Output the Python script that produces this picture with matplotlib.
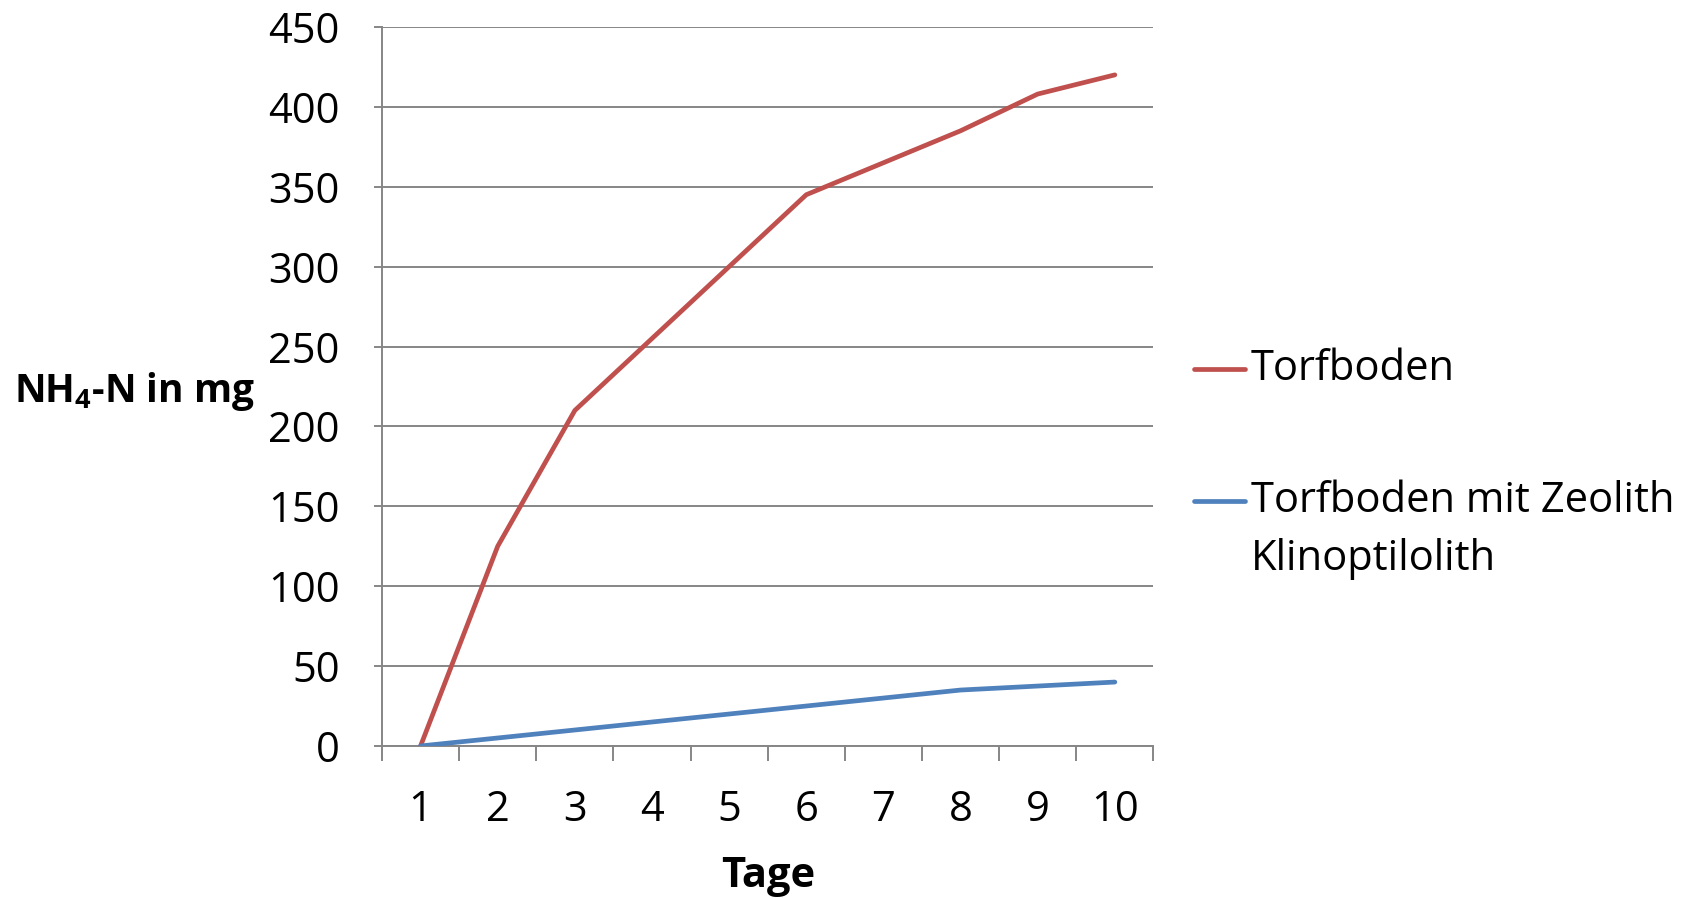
import matplotlib
matplotlib.use("Agg")
import matplotlib.pyplot as plt
from matplotlib.lines import Line2D

# data
tage = [1, 2, 3, 4, 5, 6, 7, 8, 9, 10]
torfboden = [0, 125, 210, 255, 300, 345, 365, 385, 408, 420]
torfboden_zeolith = [0, 5, 10, 15, 20, 25, 30, 35, 37.5, 40]
labels = ["Torfboden", "Torfboden mit Zeolith\nKlinoptilolith"]
colors = ["#C0504D", "#4F81BD"]

plt.rcParams['font.family'] = ['Open Sans', 'DejaVu Sans']
plt.rcParams['mathtext.fontset'] = 'custom'
plt.rcParams['mathtext.rm'] = 'Open Sans:bold'

grid_col = "#868686"
fs = 30

fig = plt.figure(figsize=(16.88, 8.98), dpi=100)
ax = fig.add_axes([0.2263, 0.1693, 0.4570, 0.8007])

ax.plot(tage, torfboden, color=colors[0], lw=3.4, solid_capstyle='round', zorder=3)
ax.plot(tage, torfboden_zeolith, color=colors[1], lw=3.4, solid_capstyle='round', zorder=3)

ax.set_xlim(0.5, 10.5)
ax.set_ylim(0, 450)
ax.set_yticks(range(0, 451, 50))
ax.yaxis.grid(True, color=grid_col, lw=1.4)
ax.set_axisbelow(True)

# category axis: ticks between categories, labels at centers
ax.set_xticks([t + 0.5 for t in [0] + tage])
ax.set_xticklabels([])
ax.set_xticks(tage, minor=True)
ax.set_xticklabels([str(t) for t in tage], minor=True, fontsize=fs)
ax.tick_params(axis='x', which='major', length=11, width=1.4, color=grid_col, direction='out')
ax.tick_params(axis='x', which='minor', length=0, pad=31)
ax.tick_params(axis='y', length=5.5, width=1.4, color=grid_col, labelsize=fs, pad=25)

for s in ['top', 'right']:
    ax.spines[s].set_visible(False)
for s in ['left', 'bottom']:
    ax.spines[s].set_color(grid_col)
    ax.spines[s].set_linewidth(1.4)

ax.set_xlabel("Tage", fontsize=fs, fontweight='bold', labelpad=18)
fig.text(0.008, 0.564, "NH$_4$-N in mg", fontsize=28, fontweight='bold',
         ha='left', va='center')

# legend, drawn by hand so the handle sits on the first text line
leg_y = [0.5888, 0.4418]
line_gap = 0.0645
for c, lab, y in zip(colors, labels, leg_y):
    fig.add_artist(Line2D([0.7071, 0.7373], [y, y], color=c, lw=3.4,
                          solid_capstyle='round', transform=fig.transFigure))
    for i, part in enumerate(lab.split("\n")):
        fig.text(0.741, y - i * line_gap, part, fontsize=fs, ha='left', va='center')

fig.savefig("out.png", dpi=100)
